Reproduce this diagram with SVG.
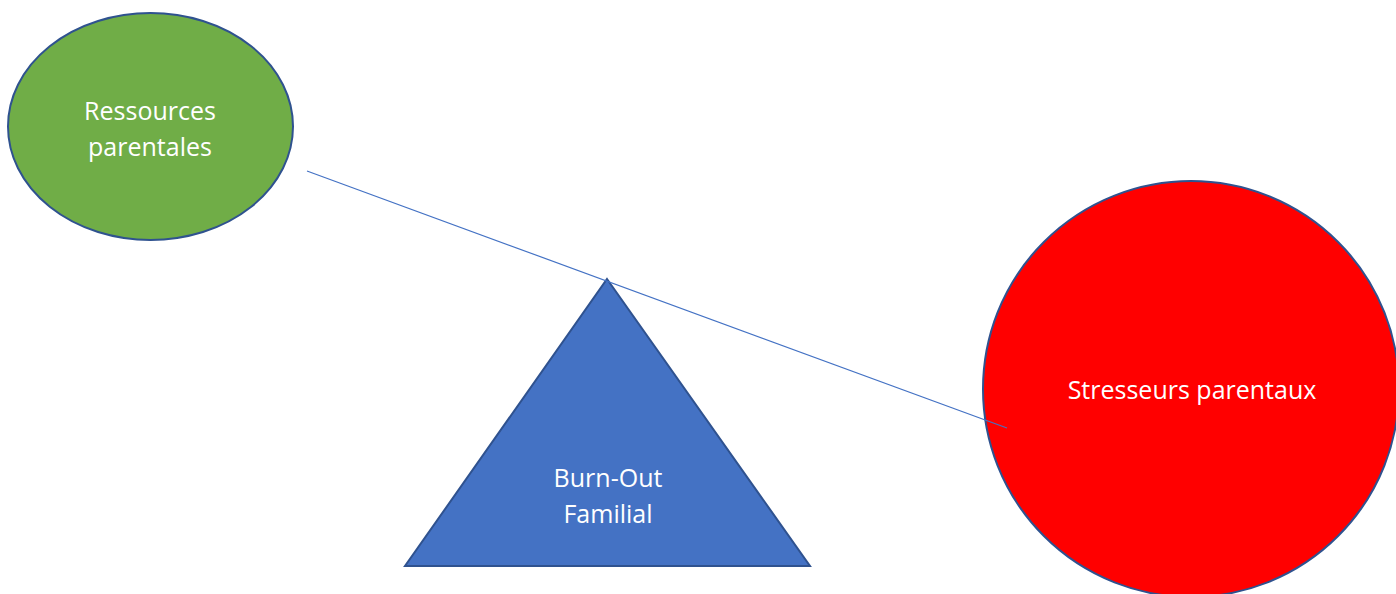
<svg xmlns="http://www.w3.org/2000/svg" width="1396" height="594" viewBox="0 0 1396 594">
<style>
.shape{stroke:#2F528F;stroke-width:2}
.lbl{font-family:"Open Sans","Liberation Sans",sans-serif;font-size:25px;fill:#ffffff;text-anchor:middle}
.conn{stroke:#4472C4;stroke-width:1.2;fill:none}
</style>
<rect width="1396" height="594" fill="#ffffff"/>
<g id="ressources">
<ellipse class="shape" cx="150.5" cy="126.5" rx="142.5" ry="113.5" fill="#70AD47"/>
<text class="lbl" x="150" y="120">Ressources</text>
<text class="lbl" x="150" y="156">parentales</text>
</g>
<g id="burnout">
<polygon class="shape" points="607,279 810,566 405,566" fill="#4472C4"/>
<text class="lbl" x="608" y="487">Burn-Out</text>
<text class="lbl" x="608" y="523">Familial</text>
</g>
<g id="stresseurs">
<ellipse class="shape" cx="1191" cy="389" rx="208" ry="208" fill="#FF0000"/>
<text class="lbl" x="1192" y="399">Stresseurs parentaux</text>
</g>
<g id="connectors">
<line class="conn" x1="307" y1="171" x2="1007" y2="428"/>
</g>
</svg>
